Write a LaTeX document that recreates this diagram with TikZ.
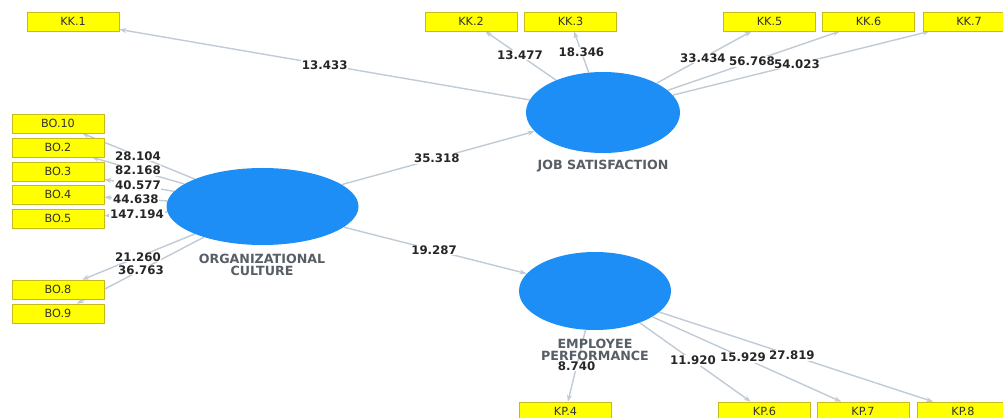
\documentclass[tikz,border=0pt]{standalone}
\usepackage{fontspec}
\setmainfont{DejaVu Sans}
\usetikzlibrary{arrows.meta, positioning, shapes.geometric, backgrounds, calc}
\definecolor{lvblue}{RGB}{28,142,245}
\definecolor{mvyellow}{RGB}{255,255,0}
\definecolor{mvborder}{RGB}{200,186,30}
\definecolor{pathgray}{RGB}{192,203,214}
\definecolor{lvtext}{RGB}{88,94,102}

\begin{document}
\begin{tikzpicture}[x=0.25mm, y=-0.25mm, >={Stealth[length=5pt,width=3.6pt]}]
    \tikzstyle{latent}=[ellipse, fill=lvblue, inner sep=0pt]
    \tikzstyle{indicator}=[rectangle, fill=mvyellow, draw=mvborder, line width=0.4pt, minimum width=23mm, minimum height=4.75mm, inner sep=0pt, font=\fontsize{8}{8}\selectfont, text=black!80]
    \tikzstyle{loading}=[->, draw=pathgray, line width=1pt]
    \tikzstyle{coef}=[fill=white, inner sep=0.5pt, font=\bfseries\fontsize{8.4}{8.4}\selectfont, text=black!85]
    \tikzstyle{lvname}=[align=center, font=\bfseries\fontsize{9}{8.5}\selectfont, text=lvtext]

    \useasboundingbox (0,0) rectangle (1003,418);

    % Draw the latent variables
    \node[latent, minimum width=48mm, minimum height=19.25mm] (OC) at (262.5,206.5) {};
    \node[latent, minimum width=38.5mm, minimum height=20.25mm] (JS) at (603,112.5) {};
    \node[latent, minimum width=38mm, minimum height=19.5mm] (EP) at (595,291) {};

    \node[lvname] (OC-name) at (262,265) {ORGANIZATIONAL\\CULTURE};
    \node[lvname] (JS-name) at (603,166) {JOB SATISFACTION};
    \node[lvname] (EP-name) at (595,350) {EMPLOYEE\\PERFORMANCE};

    % Draw the indicator boxes
    \foreach \n / \x in {1/73, 2/471, 3/570.5, 5/769.5, 6/868.5, 7/969}
        \node[indicator] (KK-\n) at (\x,21.5) {KK.\n};
    \foreach \n / \y in {10/123.5, 2/147.5, 3/171.5, 4/194.5, 5/218.5, 8/289.5, 9/313.5}
        \node[indicator] (BO-\n) at (58,\y) {BO.\n};
    \foreach \n / \x in {4/565.5, 6/764.5, 7/863, 8/963}
        \node[indicator] (KP-\n) at (\x,411.5) {KP.\n};

    % Connect latents to each other and to their indicators,
    % behind the boxes
    \begin{scope}[on background layer]
        \draw[loading] (OC) -- (JS);
        \draw[loading] (OC) -- (EP);
        \foreach \n in {1,2,3,5,6,7}
            \draw[loading] (JS) -- (KK-\n);
        \foreach \n in {10,2,3,4,5,8,9}
            \draw[loading] (OC) -- (BO-\n);
        \foreach \n in {4,6,7,8}
            \draw[loading] (EP) -- (KP-\n);
    \end{scope}

    % t-values sit on the lines
    \node[coef] (c-JS) at ($(OC)!0.512!(JS)$) {35.318};
    \node[coef] (c-EP) at ($(OC)!0.516!(EP)$) {19.287};
    \foreach \n / \t / \v in {1/0.525/13.433, 2/0.629/13.477, 3/0.665/18.346, 5/0.60/33.434, 6/0.561/56.768, 7/0.53/54.023}
        \node[coef] (c-KK-\n) at ($(JS)!\t!(KK-\n)$) {\v};
    \foreach \n / \t / \v in {10/0.609/28.104, 2/0.609/82.168, 3/0.609/40.577, 4/0.619/44.638, 5/0.614/147.194, 8/0.609/21.260, 9/0.594/36.763}
        \node[coef] (c-BO-\n) at ($(OC)!\t!(BO-\n)$) {\v};
    \foreach \n / \t / \v in {4/0.622/8.740, 6/0.578/11.920, 7/0.552/15.929, 8/0.535/27.819}
        \node[coef] (c-KP-\n) at ($(EP)!\t!(KP-\n)$) {\v};
\end{tikzpicture}
\end{document}
